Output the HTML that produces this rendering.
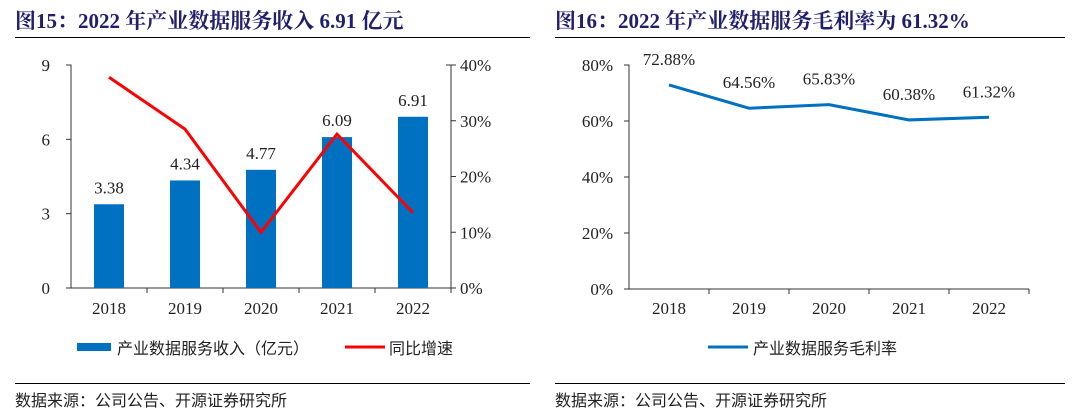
<!DOCTYPE html>
<html><head><meta charset="utf-8"><style>
body{margin:0;width:1080px;height:414px;background:#fff;overflow:hidden}
svg{display:block}
.t{font-family:"Liberation Serif","Noto Serif CJK SC",serif;font-weight:bold;fill:#1f1f6e;font-size:21px}
.n{font-family:"Liberation Serif",serif;font-size:17px;fill:#222}
.c{font-family:"Liberation Sans","Noto Sans CJK SC",sans-serif;font-size:16px;fill:#222}
</style></head><body>
<svg id="s" width="1080" height="414">
<text class="t" x="15" y="28">图15：2022 年产业数据服务收入 6.91 亿元</text>
<text class="t" x="555" y="28">图16：2022 年产业数据服务毛利率为 61.32%</text>
<line x1="15" y1="37.5" x2="530" y2="37.5" stroke="#000"/>
<line x1="555" y1="37.5" x2="1065" y2="37.5" stroke="#000"/>
<line x1="15" y1="383.5" x2="530" y2="383.5" stroke="#000"/>
<line x1="555" y1="383.5" x2="1065" y2="383.5" stroke="#000"/>
<text class="c" x="15" y="406">数据来源：公司公告、开源证券研究所</text>
<text class="c" x="555" y="406">数据来源：公司公告、开源证券研究所</text>
<g id="L"></g><g id="R"></g>
<rect x="77" y="343" width="34" height="8" fill="#0070c0"/>
<text class="c" x="117" y="354">产业数据服务收入（亿元）</text>
<line x1="345" y1="347" x2="385" y2="347" stroke="#f00" stroke-width="3"/>
<text class="c" x="389" y="354">同比增速</text>
<line x1="708" y1="347" x2="748" y2="347" stroke="#0070c0" stroke-width="3"/>
<text class="c" x="753" y="354">产业数据服务毛利率</text>
</svg>
<script>
const categories=["2018","2019","2020","2021","2022"];
const revenue=[3.38,4.34,4.77,6.09,6.91];
const growth=[37.8,28.5,10.0,27.6,13.5];
const margin=[72.88,64.56,65.83,60.38,61.32];
const leftTicks=[0,3,6,9];
const rightTicks=[0,10,20,30,40];
const marginTicks=[0,20,40,60,80];
const NS="http://www.w3.org/2000/svg";
function mk(p,t,a,txt){const e=document.createElementNS(NS,t);for(const k in a)e.setAttribute(k,a[k]);if(txt!==undefined)e.textContent=txt;p.appendChild(e);return e;}
const L=document.getElementById('L');
const lx0=71,lx1=451,ly0=288,ly1=65,band=(lx1-lx0)/categories.length;
const ly=v=>ly0-(v/9)*(ly0-ly1), gy=v=>ly0-(v/40)*(ly0-ly1), cx=i=>lx0+band*(i+0.5);
let e;
e=mk(L,'path',{d:`M${lx0-5} ${ly1}H${lx0}V${ly0}H${lx1}V${ly1}H${lx1-5}`,fill:'none',stroke:'#333'});

leftTicks.forEach(v=>{e=mk(L,'line',{x1:lx0-5,x2:lx0,y1:ly(v),y2:ly(v),stroke:'#333'});
e=mk(L,'text',{class:'n',x:50,y:ly(v)+6,'text-anchor':'end'},v);});
rightTicks.forEach(v=>{e=mk(L,'line',{x1:lx1,x2:lx1+5,y1:gy(v),y2:gy(v),stroke:'#333'});
e=mk(L,'text',{class:'n',x:460,y:gy(v)+6},v+'%');});
categories.forEach((c,i)=>{
e=mk(L,'line',{x1:lx0+band*(i+1),x2:lx0+band*(i+1),y1:ly0,y2:ly0+5,stroke:'#333'});
e=mk(L,'text',{class:'n',x:cx(i),y:314,'text-anchor':'middle'},c);
e=mk(L,'rect',{x:cx(i)-15,y:ly(revenue[i]),width:30,height:ly0-ly(revenue[i]),fill:'#0070c0'});
e=mk(L,'text',{class:'n',x:cx(i),y:ly(revenue[i])-11,'text-anchor':'middle'},revenue[i].toFixed(2));
});
e=mk(L,'polyline',{points:growth.map((v,i)=>cx(i)+','+gy(v)).join(' '),fill:'none',stroke:'#f00','stroke-width':3});

const R=document.getElementById('R');
const rx0=629,rx1=1029,ry0=289,ry1=65,rb=(rx1-rx0)/categories.length;
const my=v=>ry0-(v/80)*(ry0-ry1), mx=i=>rx0+rb*(i+0.5);
e=mk(R,'path',{d:`M${rx0-5} ${ry1}H${rx0}V${ry0}H${rx1}`,fill:'none',stroke:'#333'});

marginTicks.forEach(v=>{e=mk(R,'line',{x1:rx0-5,x2:rx0,y1:my(v),y2:my(v),stroke:'#333'});
e=mk(R,'text',{class:'n',x:613,y:my(v)+6,'text-anchor':'end'},v+'%');});
categories.forEach((c,i)=>{
e=mk(R,'line',{x1:rx0+rb*(i+1),x2:rx0+rb*(i+1),y1:ry0,y2:ry0+5,stroke:'#333'});
e=mk(R,'text',{class:'n',x:mx(i),y:314,'text-anchor':'middle'},c);
e=mk(R,'text',{class:'n',x:mx(i),y:my(margin[i])-20,'text-anchor':'middle'},margin[i].toFixed(2)+'%');
});
e=mk(R,'polyline',{points:margin.map((v,i)=>mx(i)+','+my(v)).join(' '),fill:'none',stroke:'#0070c0','stroke-width':3});

</script>
</body></html>
